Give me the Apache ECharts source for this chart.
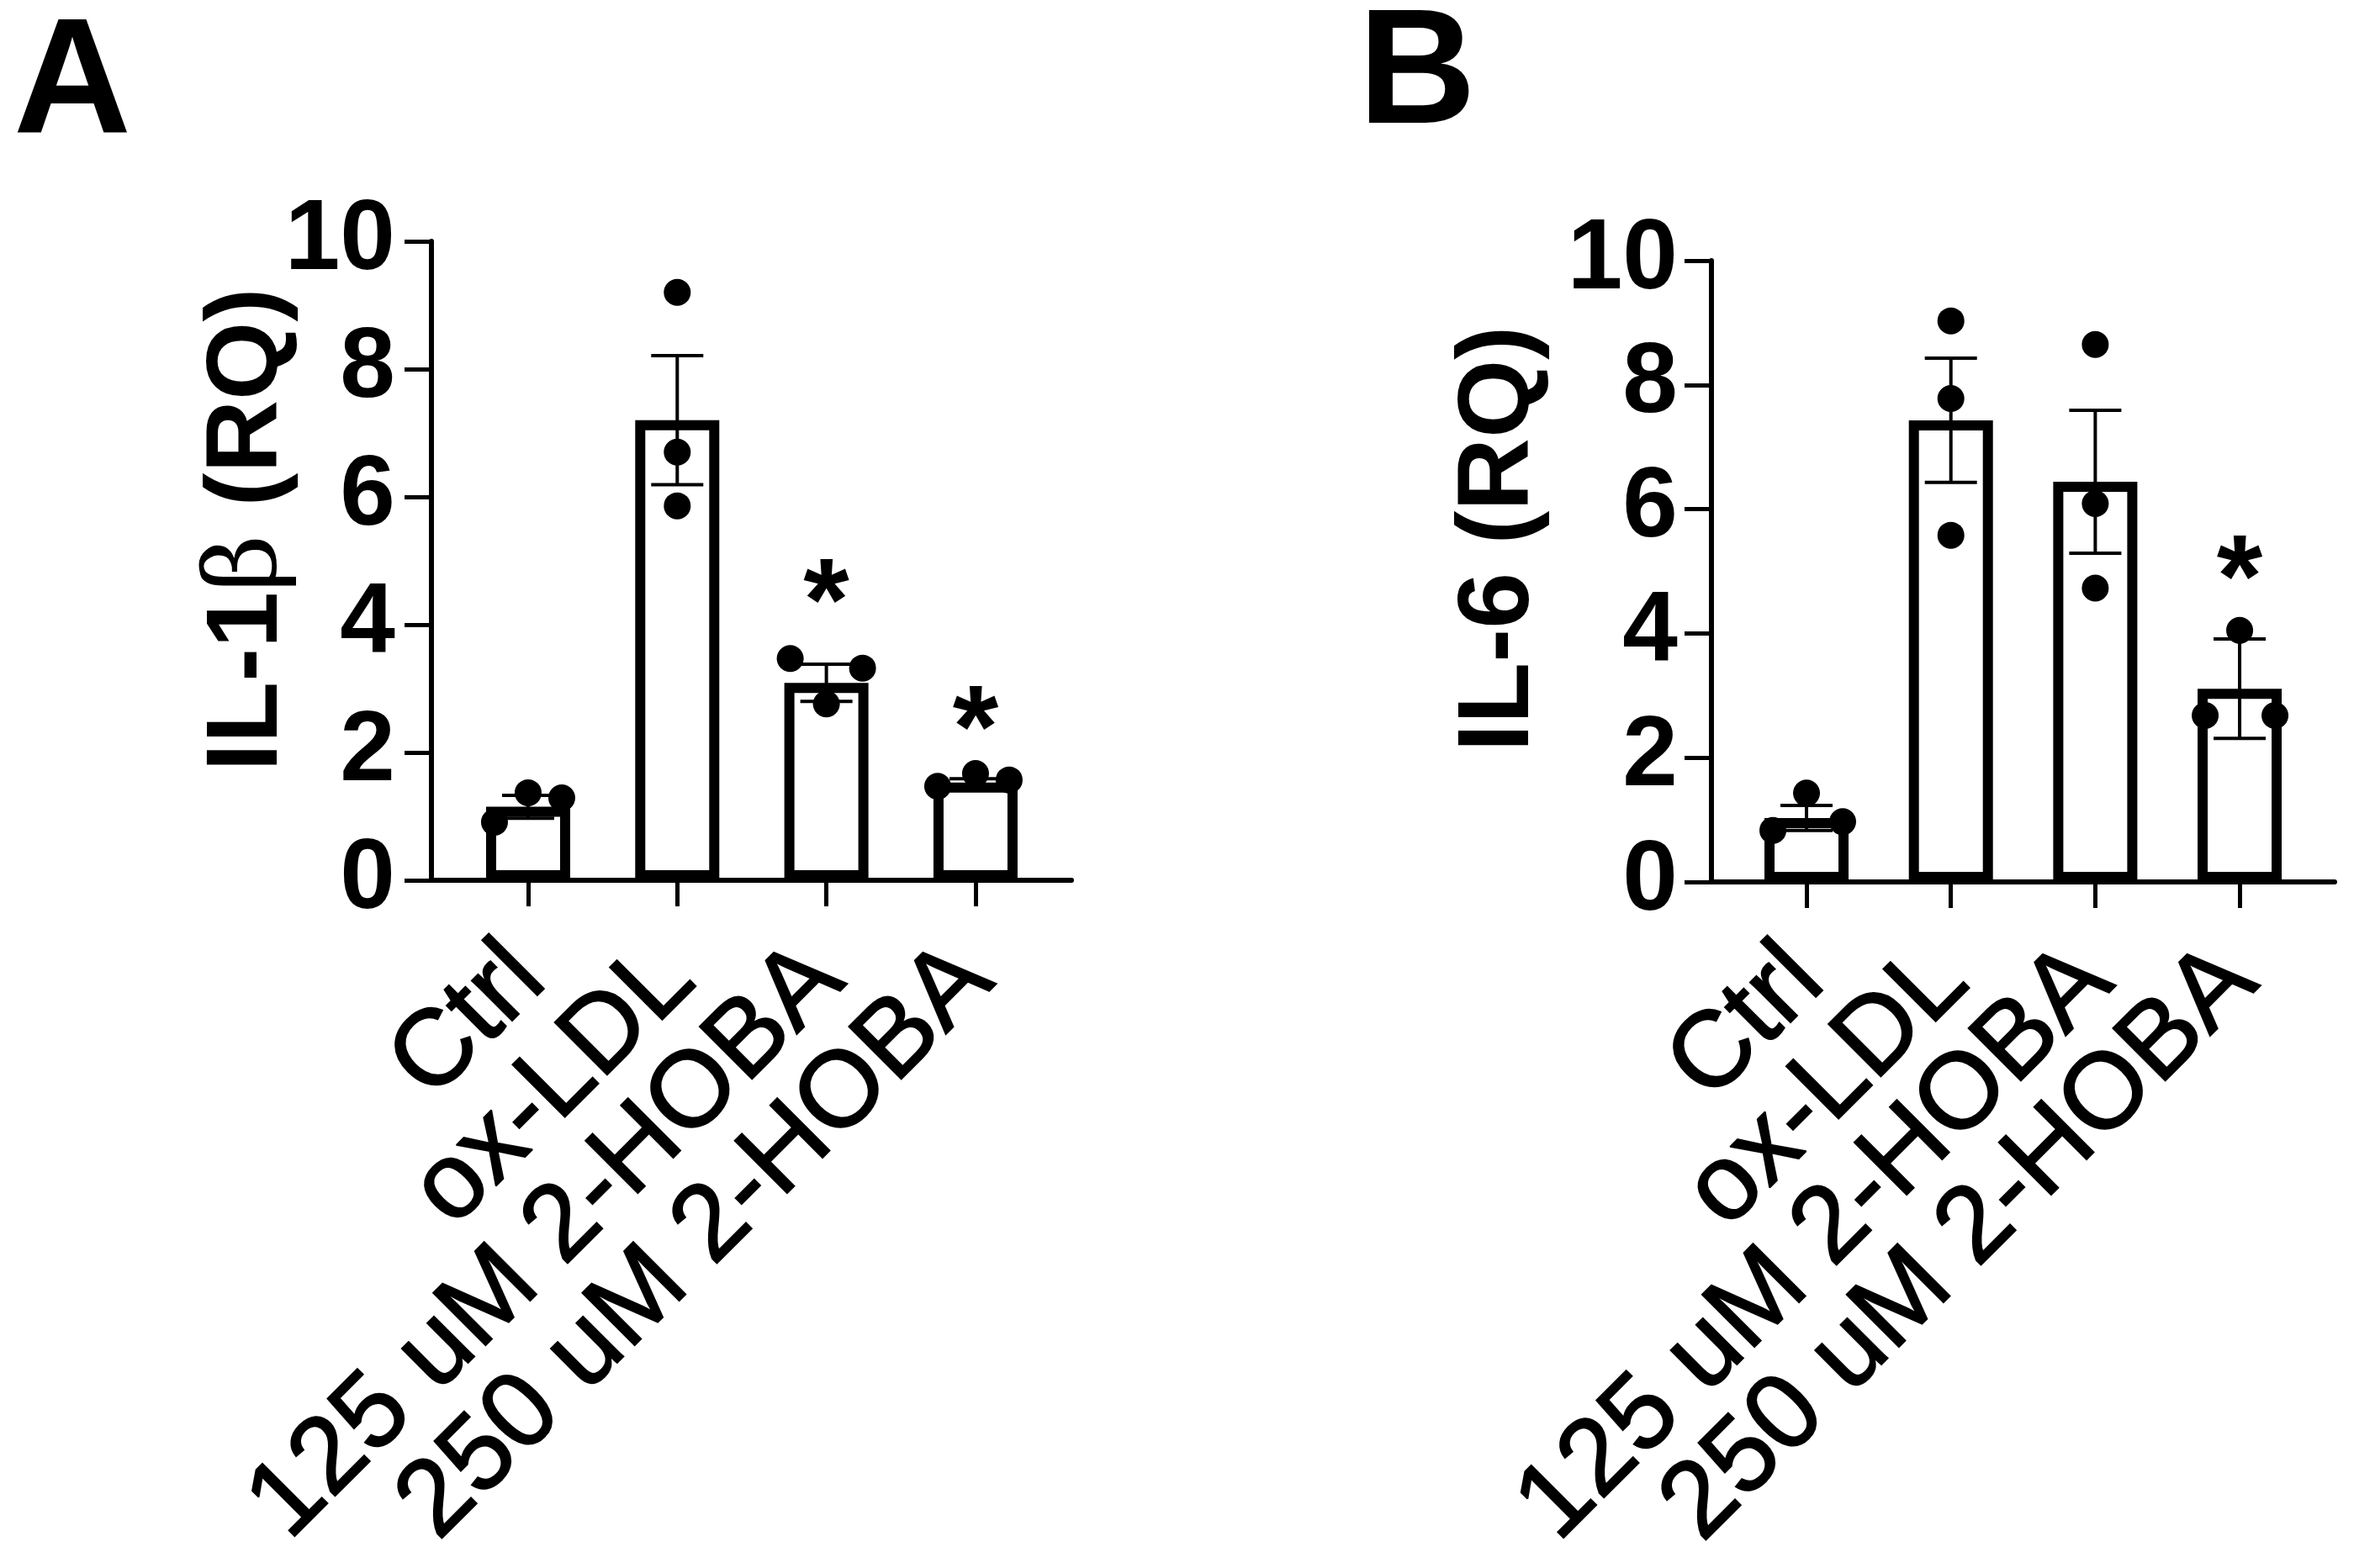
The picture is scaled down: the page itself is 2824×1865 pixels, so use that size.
<!DOCTYPE html>
<html>
<head>
<meta charset="utf-8">
<script src="https://cdn.jsdelivr.net/npm/echarts@6/dist/echarts.min.js"></script>
<style>
html,body{margin:0;padding:0;background:#fff;}
#chart{width:2824px;height:1865px;}
</style>
</head>
<body>
<div id="chart"></div>
<script>
// ---------- data ----------
const categories = ['Ctrl', 'ox-LDL', '125 uM 2-HOBA', '250 uM 2-HOBA'];

// Panel A: IL-1β
const il1bMean = [1.15, 7.20, 3.09, 1.53];
const il1bSem = [0.18, 1.01, 0.29, 0.06];
const il1bPoints = [[0.91, 1.37, 1.29], [9.20, 6.70, 5.86], [3.47, 2.76, 3.32], [1.47, 1.67, 1.57]];
const il1bStars = [null, null, 4.75, 2.76];

// Panel B: IL-6
const il6Mean = [1.03, 7.43, 6.44, 3.11];
const il6Sem = [0.20, 1.00, 1.15, 0.80];
const il6Points = [[0.83, 1.43, 0.97], [9.03, 7.78, 5.58], [8.65, 6.09, 4.73], [2.68, 4.05, 2.68]];
const il6Stars = [null, null, null, 5.28];

// ---------- layout / style ----------
const FONT = 'Liberation Sans, Arial, Helvetica, sans-serif';
const panels = [
  { yAxisX: 513, y10: 287, y0: 1047, xEnd: 1274, bandLeft: 539.3, bandW: 709.3, labelMargin: 43,
    jitter: [[-40, 0, 40], [0, 0, 0], [-43, 0, 43], [-45, 0, 40]] },
  { yAxisX: 2035, y10: 310, y0: 1049, xEnd: 2776, bandLeft: 2062.2, bandW: 686.7, labelMargin: 40,
    jitter: [[-40, 0, 43], [0, 0, 0], [0, 0, 0], [-41, 0, 42]] }
];

const grids = [], xAxes = [], yAxes = [], series = [];

function buildPanel(p, mean, sem, pts, stars) {
  const h = p.y0 - p.y10;
  // frame grid (axis lines + y ticks/labels)
  const gF = grids.length;
  grids.push({ left: p.yAxisX, top: p.y10, width: p.xEnd - p.yAxisX, height: h, outerBoundsMode: 'none', containLabel: false });
  xAxes.push({ gridIndex: gF, type: 'value', min: 0, max: 1,
    axisLine: { show: true, onZero: false, lineStyle: { color: '#000', width: 6 } },
    axisTick: { show: false }, axisLabel: { show: false }, splitLine: { show: false } });
  yAxes.push({ gridIndex: gF, type: 'value', min: 0, max: 10, interval: 2,
    axisLine: { show: true, onZero: false, lineStyle: { color: '#000', width: 6 } },
    axisTick: { show: true, length: 32, lineStyle: { color: '#000', width: 5 } },
    axisLabel: { margin: p.labelMargin, fontSize: 118, fontWeight: 'bold', color: '#000', fontFamily: FONT },
    splitLine: { show: false } });
  // band grid (bars, points, category ticks/labels)
  const gB = grids.length;
  grids.push({ left: p.bandLeft, top: p.y10, width: p.bandW, height: h, outerBoundsMode: 'none', containLabel: false });
  const xi = xAxes.length;
  xAxes.push({ gridIndex: gB, type: 'category', data: categories, boundaryGap: true,
    axisLine: { show: false },
    axisTick: { show: true, alignWithLabel: true, length: 31, lineStyle: { color: '#000', width: 5 } },
    axisLabel: { interval: 0, rotate: 45, margin: 98, fontSize: 128, color: '#000', fontFamily: FONT,
      textBorderColor: '#000', textBorderWidth: 2 } });
  const yi = yAxes.length;
  yAxes.push({ gridIndex: gB, type: 'value', min: 0, max: 10, show: false });

  series.push({ type: 'bar', xAxisIndex: xi, yAxisIndex: yi, z: 2, barWidth: 100,
    data: mean, itemStyle: { color: '#fff', borderColor: '#000', borderWidth: 12, opacity: 1 }, silent: true });

  series.push({ type: 'custom', xAxisIndex: xi, yAxisIndex: yi, z: 3, silent: true,
    data: mean.map((m, i) => [i, m, sem[i]]),
    encode: { x: 0, y: 1 },
    renderItem: function (params, api) {
      const i = api.value(0), m = api.value(1), s = api.value(2);
      const top = api.coord([i, m + s]);
      const bot = api.coord([i, m - s]);
      const hw = 31;
      const st = { stroke: '#000', lineWidth: 4 };
      return { type: 'group', children: [
        { type: 'line', shape: { x1: top[0], y1: top[1], x2: bot[0], y2: bot[1] }, style: st },
        { type: 'line', shape: { x1: top[0] - hw, y1: top[1], x2: top[0] + hw, y2: top[1] }, style: st },
        { type: 'line', shape: { x1: bot[0] - hw, y1: bot[1], x2: bot[0] + hw, y2: bot[1] }, style: st }
      ] };
    } });

  const dots = [];
  pts.forEach((g, i) => g.forEach((v, j) => dots.push({ value: [i, v], symbolOffset: [p.jitter[i][j], 0] })));
  series.push({ type: 'scatter', xAxisIndex: xi, yAxisIndex: yi, z: 4, silent: true,
    symbol: 'circle', symbolSize: 32, itemStyle: { color: '#000', opacity: 1 }, data: dots });

  const st = [];
  stars.forEach((v, i) => { if (v !== null) st.push([i, v]); });
  series.push({ type: 'scatter', xAxisIndex: xi, yAxisIndex: yi, z: 5, silent: true,
    symbol: 'circle', symbolSize: 1, itemStyle: { color: 'rgba(255,255,255,0)', opacity: 1 },
    label: { show: true, position: 'inside', formatter: '*', fontSize: 140, fontWeight: 'bold',
      fontFamily: FONT, color: '#000', opacity: 1, offset: [0, 36] },
    data: st });
}

buildPanel(panels[0], il1bMean, il1bSem, il1bPoints, il1bStars);
buildPanel(panels[1], il6Mean, il6Sem, il6Points, il6Stars);

function txt(x, y, text, size, rot, rich) {
  return { type: 'text', x: x, y: y, rotation: rot || 0, silent: true,
    style: { text: text, fill: '#000', fontSize: size, fontWeight: 'bold', fontFamily: FONT,
      textAlign: 'center', textVerticalAlign: 'middle', align: 'center', verticalAlign: 'middle', rich: rich || {} } };
}

const chart = echarts.init(document.getElementById('chart'), null, { renderer: 'canvas' });
chart.setOption({
  animation: false,
  backgroundColor: '#fff',
  grid: grids,
  xAxis: xAxes,
  yAxis: yAxes,
  series: series,
  graphic: [
    txt(86, 103, 'A', 194),
    txt(1685, 92, 'B', 194),
    txt(296, 630, 'IL-1{b|β} (RQ)', 120, Math.PI / 2,
      { b: { fontFamily: 'DejaVu Serif, Liberation Serif, serif', fontWeight: 'normal', fontSize: 118 } }),
    txt(1784, 641, 'IL-6 (RQ)', 120, Math.PI / 2)
  ]
});
</script>
</body>
</html>
